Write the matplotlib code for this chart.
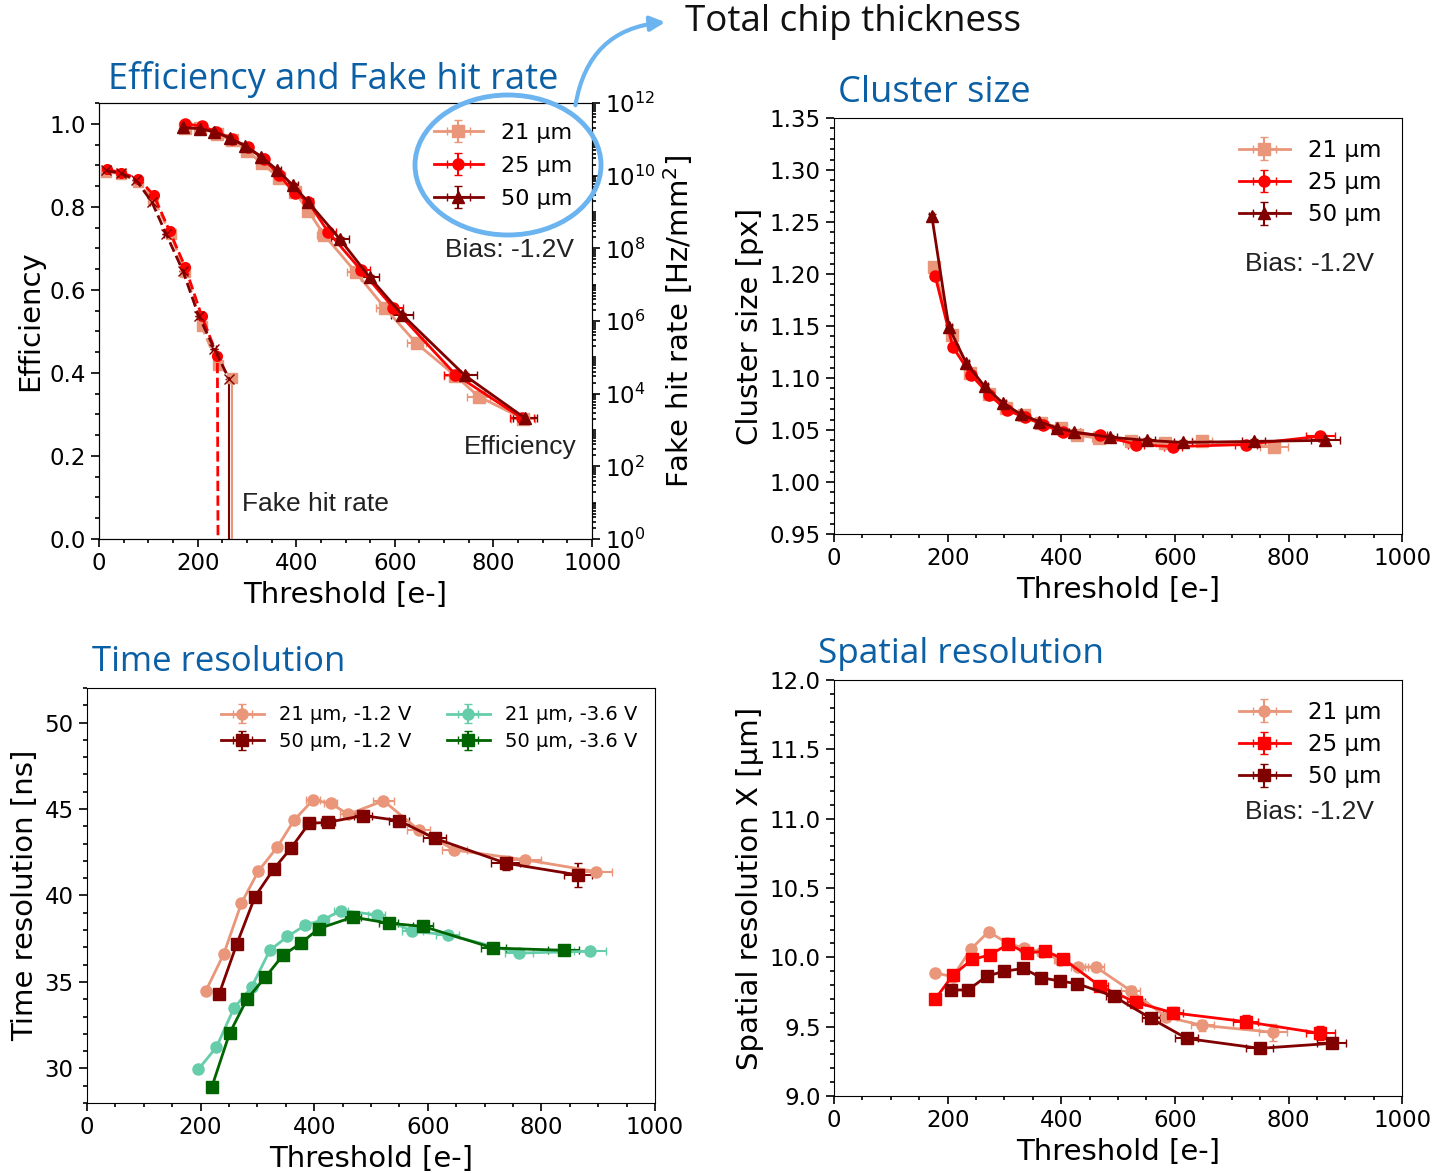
import numpy as np
import matplotlib.pyplot as plt
from matplotlib.patches import Ellipse, FancyArrowPatch
from matplotlib.ticker import MultipleLocator, LogLocator, NullFormatter

# colours
c21 = '#e9967a'
c25 = '#ff0000'
c50 = '#800000'
c21b = '#66cdaa'
c50b = '#006400'
title_col = '#0b5fa5'

# ---- efficiency / fake hit rate ----
eff_thr_21 = [175, 205, 240, 270, 300, 330, 365, 397, 424, 456, 521, 580, 644, 723, 770, 860]
eff_21 = [0.99, 0.99, 0.975, 0.96, 0.935, 0.905, 0.87, 0.836, 0.791, 0.733, 0.642, 0.556, 0.471, 0.393, 0.343, 0.29]
eff_xerr_21 = [5, 5, 5, 5, 6, 6, 8, 8, 10, 14, 18, 18, 20, 24, 24, 25]
eff_thr_25 = [175, 208, 238, 270, 302, 334, 365, 397, 424, 465, 531, 597, 723, 858]
eff_25 = [1.0, 0.994, 0.981, 0.964, 0.943, 0.915, 0.876, 0.834, 0.812, 0.739, 0.648, 0.557, 0.396, 0.291]
eff_xerr_25 = [5, 5, 5, 5, 6, 6, 8, 8, 10, 15, 18, 20, 24, 25]
eff_thr_50 = [170, 204, 234, 266, 296, 329, 361, 393, 424, 488, 549, 615, 742, 864]
eff_50 = [0.991, 0.988, 0.981, 0.965, 0.947, 0.921, 0.889, 0.852, 0.812, 0.723, 0.630, 0.540, 0.394, 0.291]
eff_xerr_50 = [5, 5, 5, 6, 6, 8, 8, 10, 10, 18, 18, 22, 24, 25]

fhr_thr_21 = [15, 45, 80, 110, 145, 175, 208, 241, 270]
fhr_21 = [1.3e10, 1.1e10, 6.8e9, 2.3e9, 2.5e8, 2.3e7, 7.2e5, 6.3e4, 2.7e4]
fhr_thr_25 = [16, 45, 80, 111, 143, 175, 208, 240, 242]
fhr_25 = [1.5e10, 1.2e10, 8.3e9, 2.9e9, 3.0e8, 3.0e7, 1.4e6, 1.1e5, 1e-3]
fhr_thr_50 = [14, 45, 75, 107, 136, 170, 202, 234, 264]
fhr_50 = [1.4e10, 1.15e10, 7.6e9, 1.9e9, 2.5e8, 2.4e7, 1.4e6, 1.7e5, 2.5e4]

# ---- cluster size ----
cs_thr_21 = [176, 208, 239, 272, 302, 334, 365, 400, 428, 466, 522, 582, 648, 774]
cs_21 = [1.207, 1.141, 1.105, 1.085, 1.071, 1.064, 1.057, 1.052, 1.045, 1.042, 1.039, 1.037, 1.039, 1.034]
cs_xerr_21 = [4, 5, 5, 6, 6, 6, 8, 8, 10, 12, 14, 16, 18, 25]
cs_thr_25 = [178, 209, 241, 273, 304, 337, 368, 403, 469, 532, 596, 725, 856]
cs_25 = [1.198, 1.13, 1.103, 1.084, 1.069, 1.062, 1.055, 1.048, 1.045, 1.036, 1.034, 1.036, 1.044]
cs_xerr_25 = [4, 5, 5, 6, 6, 6, 8, 8, 12, 14, 16, 20, 25]
cs_thr_50 = [172, 202, 233, 265, 297, 329, 361, 392, 423, 486, 551, 614, 739, 865]
cs_50 = [1.256, 1.149, 1.114, 1.092, 1.076, 1.065, 1.058, 1.052, 1.048, 1.043, 1.040, 1.038, 1.039, 1.040]
cs_xerr_50 = [4, 5, 5, 6, 6, 6, 8, 8, 10, 12, 14, 16, 20, 25]

# ---- time resolution ----
tr_thr_21a = [209, 241, 272, 302, 335, 365, 398, 429, 460, 522, 584, 647, 772, 896]
tr_21a = [34.46, 36.63, 39.56, 41.42, 42.79, 44.37, 45.52, 45.33, 44.69, 45.48, 43.79, 42.63, 42.06, 41.38]
tr_xerr_21a = [4, 5, 5, 6, 6, 8, 12, 12, 14, 18, 20, 22, 28, 28]
tr_thr_50a = [233, 264, 296, 329, 360, 391, 424, 486, 549, 612, 737, 864]
tr_50a = [34.33, 37.21, 39.94, 41.54, 42.77, 44.17, 44.23, 44.62, 44.33, 43.31, 41.87, 41.19]
tr_xerr_50a = [4, 5, 5, 6, 8, 10, 12, 15, 18, 20, 25, 25]
tr_yerr_50a = [0.2, 0.2, 0.2, 0.2, 0.2, 0.2, 0.2, 0.2, 0.2, 0.3, 0.4, 0.7]
tr_thr_21b = [196, 228, 259, 290, 322, 353, 384, 416, 447, 510, 573, 635, 761, 886]
tr_21b = [29.94, 31.23, 33.5, 34.71, 36.83, 37.63, 38.27, 38.6, 39.13, 38.88, 37.92, 37.73, 36.67, 36.77]
tr_xerr_21b = [4, 4, 5, 5, 6, 6, 8, 10, 12, 15, 18, 20, 25, 28]
tr_thr_50b = [220, 251, 282, 314, 345, 377, 408, 468, 531, 592, 715, 839]
tr_50b = [28.94, 32.02, 34.02, 35.27, 36.54, 37.25, 38.08, 38.75, 38.4, 38.21, 36.96, 36.83]
tr_xerr_50b = [4, 5, 5, 6, 6, 8, 10, 14, 16, 18, 22, 28]

# ---- spatial resolution ----
sr_thr_21 = [178, 209, 241, 272, 304, 335, 366, 398, 429, 461, 522, 585, 648, 773]
sr_21 = [9.889, 9.86, 10.06, 10.185, 10.105, 10.065, 10.04, 9.98, 9.93, 9.93, 9.76, 9.57, 9.51, 9.46]
sr_xerr_21 = [4, 5, 5, 6, 6, 8, 8, 10, 12, 14, 16, 18, 20, 25]
sr_yerr_21 = [0.02, 0.02, 0.02, 0.02, 0.02, 0.02, 0.02, 0.02, 0.03, 0.03, 0.03, 0.03, 0.04, 0.06]
sr_thr_25 = [178, 209, 243, 274, 307, 339, 372, 403, 469, 532, 597, 725, 856]
sr_25 = [9.70, 9.87, 9.985, 10.017, 10.096, 10.03, 10.046, 9.99, 9.79, 9.675, 9.60, 9.536, 9.452]
sr_xerr_25 = [4, 5, 5, 6, 6, 8, 8, 10, 14, 16, 18, 22, 25]
sr_yerr_25 = [0.02, 0.02, 0.02, 0.02, 0.02, 0.02, 0.02, 0.02, 0.03, 0.03, 0.04, 0.05, 0.05]
sr_thr_50 = [206, 236, 269, 300, 333, 365, 397, 428, 492, 558, 621, 749, 876]
sr_50 = [9.765, 9.765, 9.865, 9.90, 9.92, 9.853, 9.83, 9.81, 9.72, 9.56, 9.415, 9.344, 9.38]
sr_xerr_50 = [4, 5, 5, 6, 6, 8, 8, 10, 14, 16, 20, 24, 25]

fig = plt.figure(figsize=(14.44, 11.73), dpi=100)

def style(ax, xmin=50):
    ax.tick_params(which='both', direction='out', labelsize=16.5, width=1.2)
    ax.tick_params(which='major', length=6)
    ax.tick_params(which='minor', length=3)
    ax.set_xlim(0, 1000)
    ax.xaxis.set_major_locator(MultipleLocator(200))
    ax.xaxis.set_minor_locator(MultipleLocator(xmin))

def eb(ax, x, y, col, mk, xerr=None, yerr=None, label=None, ls='-', ms=8):
    return ax.errorbar(x, y, xerr=xerr, yerr=yerr, color=col, marker=mk, ms=ms, lw=2,
                       ls=ls, capsize=3, elinewidth=1.5, label=label)

note = dict(fontsize=19, family='Liberation Sans', color='#222222', va='center')

# Efficiency and fake hit rate
ax1 = fig.add_axes([0.0686, 0.5405, 0.3414, 0.3717])
style(ax1)
eb(ax1, eff_thr_21, eff_21, c21, 's', xerr=eff_xerr_21, yerr=0.005, label='21 µm')
eb(ax1, eff_thr_25, eff_25, c25, 'o', xerr=eff_xerr_25, yerr=0.005, label='25 µm')
eb(ax1, eff_thr_50, eff_50, c50, '^', xerr=eff_xerr_50, yerr=0.005, label='50 µm')
ax1.set_ylim(0, 1.05)
ax1.yaxis.set_major_locator(MultipleLocator(0.2))
ax1.yaxis.set_minor_locator(MultipleLocator(0.05))
ax1.set_ylabel('Efficiency', fontsize=21)
ax1.set_xlabel('Threshold [e-]', fontsize=21, labelpad=4)
ax1.legend(loc='upper right', fontsize=16, frameon=False, handlelength=2.2,
           labelspacing=0.58, bbox_to_anchor=(1.0, 1.0))
ax1.text(0.963, 0.663, 'Bias: -1.2V', transform=ax1.transAxes, ha='right', **note)
ax1.text(0.968, 0.21, 'Efficiency', transform=ax1.transAxes, ha='right', **note)
ax1.text(0.29, 0.08, 'Fake hit rate', transform=ax1.transAxes, ha='left', **note)

ax1r = ax1.twinx()
ax1r.set_yscale('log')
ax1r.set_ylim(1, 1e12)
yerr21 = [[0] * 8 + [fhr_21[-1] - 1e-3], [0] * 9]
yerr50 = [[0] * 8 + [fhr_50[-1] - 1e-3], [0] * 9]
eb(ax1r, fhr_thr_21, fhr_21, c21, 's', xerr=4, yerr=yerr21, ls='--', ms=7)
eb(ax1r, fhr_thr_25, fhr_25, c25, 'o', xerr=4, ls='--', ms=7)
eb(ax1r, fhr_thr_50, fhr_50, c50, 'x', xerr=4, yerr=yerr50, ls='--', ms=7)
ax1r.set_yticks([10.0 ** k for k in range(0, 13, 2)])
ax1r.yaxis.set_minor_locator(LogLocator(base=10, subs=np.arange(1, 10), numticks=30))
ax1r.yaxis.set_minor_formatter(NullFormatter())
ax1r.tick_params(which='both', direction='out', labelsize=16.5, width=1.2)
ax1r.tick_params(which='major', length=6)
ax1r.tick_params(which='minor', length=3)
ax1r.set_ylabel('Fake hit rate [Hz/mm$^2$]', fontsize=21)
ax1.set_xlim(0, 1000)

# Cluster size
ax2 = fig.add_axes([0.5776, 0.5448, 0.3934, 0.3546])
style(ax2)
eb(ax2, cs_thr_21, cs_21, c21, 's', xerr=cs_xerr_21, yerr=0.003, label='21 µm')
eb(ax2, cs_thr_25, cs_25, c25, 'o', xerr=cs_xerr_25, yerr=0.002, label='25 µm')
eb(ax2, cs_thr_50, cs_50, c50, '^', xerr=cs_xerr_50, yerr=0.002, label='50 µm')
ax2.set_ylim(0.95, 1.35)
ax2.yaxis.set_major_locator(MultipleLocator(0.05))
ax2.yaxis.set_minor_locator(MultipleLocator(0.01))
ax2.set_ylabel('Cluster size [px]', fontsize=21)
ax2.set_xlabel('Threshold [e-]', fontsize=21, labelpad=4)
ax2.legend(loc='upper right', fontsize=16.5, frameon=False, handlelength=2.2, labelspacing=0.41)
ax2.text(0.95, 0.65, 'Bias: -1.2V', transform=ax2.transAxes, ha='right', **note)

# Time resolution
ax3 = fig.add_axes([0.0602, 0.0597, 0.3934, 0.3538])
style(ax3)
eb(ax3, tr_thr_21a, tr_21a, c21, 'o', xerr=tr_xerr_21a, yerr=0.2, label='21 µm, -1.2 V')
eb(ax3, tr_thr_50a, tr_50a, c50, 's', xerr=tr_xerr_50a, yerr=tr_yerr_50a, label='50 µm, -1.2 V')
eb(ax3, tr_thr_21b, tr_21b, c21b, 'o', xerr=tr_xerr_21b, yerr=0.2, label='21 µm, -3.6 V')
eb(ax3, tr_thr_50b, tr_50b, c50b, 's', xerr=tr_xerr_50b, yerr=0.2, label='50 µm, -3.6 V')
ax3.set_ylim(28, 52)
ax3.yaxis.set_major_locator(MultipleLocator(5))
ax3.yaxis.set_minor_locator(MultipleLocator(1))
ax3.set_ylabel('Time resolution [ns]', fontsize=21)
ax3.set_xlabel('Threshold [e-]', fontsize=21, labelpad=4)
ax3.legend(loc='upper right', fontsize=14, frameon=False, ncol=2, handlelength=2.2,
           columnspacing=1.8, labelspacing=0.4)

# Spatial resolution
ax4 = fig.add_axes([0.5776, 0.0656, 0.3934, 0.3547])
style(ax4)
eb(ax4, sr_thr_21, sr_21, c21, 'o', xerr=sr_xerr_21, yerr=sr_yerr_21, label='21 µm')
eb(ax4, sr_thr_25, sr_25, c25, 's', xerr=sr_xerr_25, yerr=sr_yerr_25, label='25 µm')
eb(ax4, sr_thr_50, sr_50, c50, 's', xerr=sr_xerr_50, yerr=0.02, label='50 µm')
ax4.set_ylim(9, 12)
ax4.yaxis.set_major_locator(MultipleLocator(0.5))
ax4.yaxis.set_minor_locator(MultipleLocator(0.1))
ax4.set_ylabel('Spatial resolution X [µm]', fontsize=21)
ax4.set_xlabel('Threshold [e-]', fontsize=21, labelpad=4)
ax4.legend(loc='upper right', fontsize=16.5, frameon=False, handlelength=2.2, labelspacing=0.41)
ax4.text(0.95, 0.683, 'Bias: -1.2V', transform=ax4.transAxes, ha='right', **note)

# panel titles
tkw = dict(color=title_col, family='Open Sans', va='center')
fig.text(108 / 1444, 1 - 80 / 1173, 'Efficiency and Fake hit rate', fontsize=26, **tkw)
fig.text(838 / 1444, 1 - 93 / 1173, 'Cluster size', fontsize=26, **tkw)
fig.text(92 / 1444, 1 - 662 / 1173, 'Time resolution', fontsize=25, **tkw)
fig.text(818 / 1444, 1 - 654 / 1173, 'Spatial resolution', fontsize=25.3, **tkw)

# highlight of the thickness legend
fig.add_artist(Ellipse((508 / 1444, 1 - 165 / 1173), 186 / 1444, 140 / 1173,
                       transform=fig.transFigure, fill=False, ec='#6cb4f0', lw=3.5))
fig.add_artist(FancyArrowPatch((575 / 1444, 1 - 108 / 1173), (668 / 1444, 1 - 22 / 1173),
                               transform=fig.transFigure, connectionstyle='arc3,rad=-0.4',
                               arrowstyle='-|>', mutation_scale=22, color='#6cb4f0', lw=3))
fig.text(685 / 1444, 1 - 22 / 1173, 'Total chip thickness', fontsize=26.5, family='Open Sans',
         va='center', color='#111111')

fig.savefig('out.png', dpi=100)
